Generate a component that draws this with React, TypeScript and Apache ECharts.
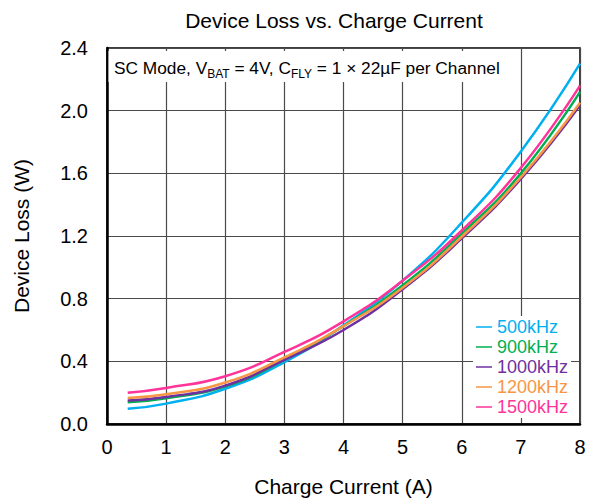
import React, { useEffect, useRef } from "react";
import * as echarts from "echarts";

const currents = [0.35, 1, 2, 3, 4, 5, 6, 7, 8];
const loss500 = [0.097, 0.13, 0.225, 0.395, 0.63, 0.915, 1.285, 1.74, 2.3];
const loss900 = [0.139, 0.165, 0.24, 0.41, 0.625, 0.885, 1.215, 1.6, 2.12];
const loss1000 = [0.15, 0.172, 0.245, 0.41, 0.6, 0.86, 1.185, 1.565, 2.035];
const loss1200 = [0.166, 0.19, 0.265, 0.425, 0.625, 0.87, 1.195, 1.575, 2.05];
const loss1500 = [0.2, 0.23, 0.305, 0.46, 0.655, 0.915, 1.235, 1.635, 2.16];

const seriesNames = ["500kHz", "900kHz", "1000kHz", "1200kHz", "1500kHz"];
const seriesColors = ["#00B0F0", "#00B050", "#7030A0", "#F79646", "#FF3399"];
const seriesData = [loss500, loss900, loss1000, loss1200, loss1500];

const FONT = "'Liberation Sans', Arial, sans-serif";

export default function App() {
  const ref = useRef<HTMLDivElement>(null);
  useEffect(() => {
    if (!ref.current) return;
    const chart = echarts.init(ref.current, undefined, { renderer: "svg" });
    chart.setOption({
      animation: false,
      backgroundColor: "#fff",
      textStyle: { fontFamily: FONT },
      title: {
        text: "Device Loss vs. Charge Current",
        left: 329,
        textAlign: "center",
        top: 5,
        textStyle: { fontFamily: FONT, fontSize: 21, fontWeight: "normal", color: "#000" },
      },
      grid: {
        left: 107,
        right: 11,
        top: 48,
        bottom: 75,
        show: true,
        borderColor: "#000",
        borderWidth: 1.5,
        containLabel: false,
      },
      xAxis: {
        type: "value",
        min: 0,
        max: 8,
        interval: 1,
        name: "Charge Current (A)",
        nameLocation: "middle",
        nameGap: 52,
        nameTextStyle: { fontFamily: FONT, fontSize: 21, color: "#000" },
        axisLine: { show: true, lineStyle: { color: "#000", width: 2.5 } },
        axisTick: { show: false },
        axisLabel: { fontFamily: FONT, fontSize: 20, color: "#000", margin: 13 },
        splitLine: { show: true, lineStyle: { color: "#4a4a4a", width: 1.2 } },
      },
      yAxis: {
        type: "value",
        min: 0,
        max: 2.4,
        interval: 0.4,
        name: "Device Loss (W)",
        nameLocation: "middle",
        nameGap: 75,
        nameTextStyle: { fontFamily: FONT, fontSize: 21, color: "#000" },
        axisLine: { show: true, lineStyle: { color: "#000", width: 2.5 } },
        axisTick: { show: false },
        axisLabel: {
          fontFamily: FONT,
          fontSize: 20,
          color: "#000",
          margin: 19,
          formatter: (v: number) => v.toFixed(1),
        },
        splitLine: { show: true, lineStyle: { color: "#4a4a4a", width: 1.2 } },
      },
      legend: {
        orient: "vertical",
        left: 473,
        top: 316,
        backgroundColor: "#fff",
        padding: [2, 3, 2, 3],
        itemGap: 2,
        itemWidth: 16,
        itemHeight: 1.5,
        icon: "rect",
        data: seriesNames.map((n, i) => ({
          name: n,
          textStyle: { color: seriesColors[i], fontFamily: FONT, fontSize: 18 },
        })),
        textStyle: { fontFamily: FONT, fontSize: 18 },
      },
      graphic: [
        {
          type: "rect",
          z: 50,
          shape: { x: 108.5, y: 51, width: 410, height: 31 },
          style: { fill: "#fff" },
        },
        {
          type: "text",
          z: 51,
          x: 114,
          y: 56,
          style: {
            text: "{a|SC Mode, V}{s|BAT}{a| = 4V, C}{s|FLY}{a| = 1 × 22µF per Channel}",
            fill: "#000",
            rich: {
              a: { fontFamily: FONT, fontSize: 17.3, lineHeight: 24, verticalAlign: "middle", fill: "#000" },
              s: { fontFamily: FONT, fontSize: 12, lineHeight: 11, verticalAlign: "bottom", fill: "#000" },
            },
          },
        },
      ],
      series: seriesNames.map((n, i) => ({
        name: n,
        type: "line",
        smooth: true,
        symbol: "none",
        color: seriesColors[i],
        lineStyle: { width: 2.5, color: seriesColors[i] },
        data: currents.map((c, j) => [c, seriesData[i][j]]),
        z: 3 + i,
      })),
    });
    return () => chart.dispose();
  }, []);
  return (
    <div
      ref={ref}
      style={{ position: "absolute", left: 0, top: 0, width: 591, height: 502 }}
    />
  );
}
